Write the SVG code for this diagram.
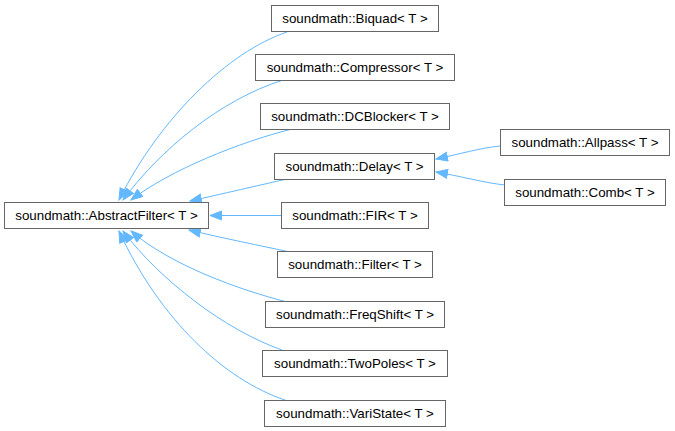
<svg xmlns="http://www.w3.org/2000/svg" width="675" height="431" viewBox="0 0 675 431">
<style>
.node rect{fill:#ffffff;stroke:#666666;stroke-width:1}
.node text{font-family:"Liberation Sans",Arial,sans-serif;font-size:13.33px;fill:#000000;text-anchor:middle}
.edge{fill:none;stroke:#63b8ff;stroke-width:1;marker-end:url(#arr)}
</style>
<defs>
<marker id="arr" markerUnits="userSpaceOnUse" markerWidth="14" markerHeight="12" refX="12" refY="5" orient="auto">
<path d="M0.5,0.5 L12,5 L0.5,9.5 z" fill="#63b8ff" stroke="#63b8ff" stroke-width="1"/>
</marker>
</defs>
<rect width="675" height="431" fill="#ffffff"/>
<g id="edges">
<path class="edge" d="M287,32 C228,52 160,118 119,200"/>
<path class="edge" d="M283,80 C220,100 160,150 123,200"/>
<path class="edge" d="M292,129 C240,142 170,170 131,200"/>
<path class="edge" d="M287,179 C260,185 222,194 190,201"/>
<path class="edge" d="M281,215.5 L210,215.5"/>
<path class="edge" d="M290,252 C262,246 222,238 189,230"/>
<path class="edge" d="M287,302 C240,290 170,265 131,231"/>
<path class="edge" d="M282,350 C225,330 160,280 123,231"/>
<path class="edge" d="M285,400 C225,380 160,320 119,231"/>
<path class="edge" d="M500,146 C480,148 460,154 436,159"/>
<path class="edge" d="M505,185 C485,183 460,176 436,172"/>
</g>
<g id="n-abstractfilter" class="node"><rect x="4.5" y="202.5" width="204" height="26"/><text x="106.5" y="220.2">soundmath::AbstractFilter&lt; T &gt;</text></g>
<g id="n-biquad" class="node"><rect x="271.5" y="5.5" width="167" height="26"/><text x="355" y="23.2">soundmath::Biquad&lt; T &gt;</text></g>
<g id="n-compressor" class="node"><rect x="255.5" y="54.5" width="199" height="26"/><text x="355" y="72.2">soundmath::Compressor&lt; T &gt;</text></g>
<g id="n-dcblocker" class="node"><rect x="260.5" y="103.5" width="189" height="26"/><text x="355" y="121.2">soundmath::DCBlocker&lt; T &gt;</text></g>
<g id="n-delay" class="node"><rect x="274.5" y="153.5" width="160" height="26"/><text x="354.5" y="171.2">soundmath::Delay&lt; T &gt;</text></g>
<g id="n-fir" class="node"><rect x="281.5" y="202.5" width="147" height="26"/><text x="355" y="220.2">soundmath::FIR&lt; T &gt;</text></g>
<g id="n-filter" class="node"><rect x="277.5" y="251.5" width="155" height="26"/><text x="355" y="269.2">soundmath::Filter&lt; T &gt;</text></g>
<g id="n-freqshift" class="node"><rect x="265.5" y="301.5" width="179" height="26"/><text x="355" y="319.2">soundmath::FreqShift&lt; T &gt;</text></g>
<g id="n-twopoles" class="node"><rect x="262.5" y="350.5" width="185" height="26"/><text x="355" y="368.2">soundmath::TwoPoles&lt; T &gt;</text></g>
<g id="n-varistate" class="node"><rect x="264.5" y="400.5" width="181" height="26"/><text x="355" y="418.2">soundmath::VariState&lt; T &gt;</text></g>
<g id="n-allpass" class="node"><rect x="500.5" y="129.5" width="169" height="26"/><text x="585" y="147.2">soundmath::Allpass&lt; T &gt;</text></g>
<g id="n-comb" class="node"><rect x="504.5" y="179.5" width="161" height="26"/><text x="585" y="197.2">soundmath::Comb&lt; T &gt;</text></g>
</svg>
